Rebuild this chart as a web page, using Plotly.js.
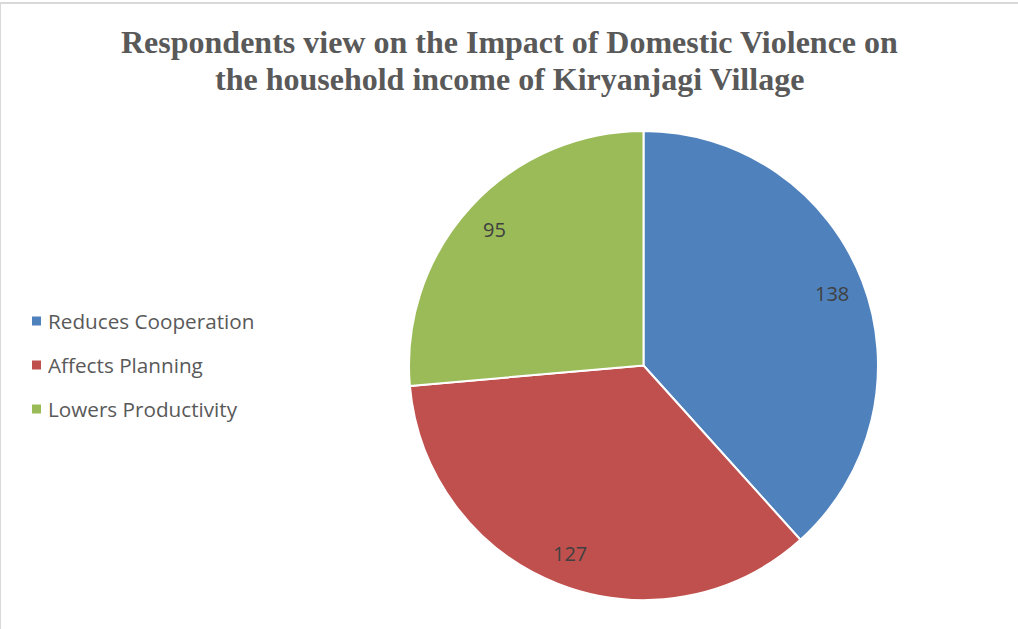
<!DOCTYPE html>
<html>
<head>
<meta charset="utf-8">
<script src="https://cdn.plot.ly/plotly-3.0.1.min.js"></script>
<style>
  html, body { margin: 0; padding: 0; background: #fff; }
  #wrap { position: relative; width: 1018px; height: 629px; }
  #chart { width: 1018px; height: 629px; }
  #frame { position: absolute; left: 0; top: 2px; width: 1018px; height: 627px;
           border-top: 2px solid #d9d9d9; border-left: 1px solid #d9d9d9; box-sizing: border-box; pointer-events: none; }
</style>
</head>
<body>
<div id="wrap">
  <div id="chart"></div>
  <div id="frame"></div>
</div>
<script>
// ---- data ----
const categories = ["Reduces Cooperation", "Affects Planning", "Lowers Productivity"];
const values = [138, 127, 95];
const colors = ["#4F81BD", "#C0504D", "#9BBB59"];
const titleLines = ["Respondents view on the Impact of Domestic Violence on",
                    "the household income of Kiryanjagi Village"];

// ---- geometry (pixels) ----
const W = 1018, H = 629;
const cxPx = 643.5, cyPx = 365.5, Rpx = 234.5;
const domX = [(cxPx - Rpx) / W, (cxPx + Rpx) / W];
const domY = [(H - cyPx - Rpx) / H, (H - cyPx + Rpx) / H];

const trace = {
  type: "pie",
  labels: categories,
  values: values,
  sort: false,
  direction: "clockwise",
  rotation: 0,
  marker: { colors: colors, line: { color: "#ffffff", width: 2 } },
  textinfo: "none",
  hoverinfo: "label+value+percent",
  domain: { x: domX, y: domY },
  showlegend: false,
  automargin: false
};

const labelFont = { family: "Open Sans, Noto Sans, sans-serif", size: 20, color: "#404040" };

// value labels at slice mid-angles
const total = values.reduce((a, b) => a + b, 0);
const annotations = [];
let cum = 0;
const rFrac = 0.86;
values.forEach((v, i) => {
  const mid = (cum + v / 2) / total * 2 * Math.PI;
  cum += v;
  const px = cxPx + Math.sin(mid) * Rpx * rFrac;
  const py = cyPx - Math.cos(mid) * Rpx * rFrac;
  annotations.push({
    xref: "paper", yref: "paper",
    x: px / W, y: (H - py) / H,
    text: String(v), showarrow: false,
    xanchor: "center", yanchor: "middle",
    font: labelFont
  });
});

// title (two lines, tighter line spacing than Plotly's default)
const titleY = [42, 79];
titleLines.forEach((t, i) => {
  annotations.push({
    xref: "paper", yref: "paper",
    x: 0.5, y: (H - titleY[i]) / H,
    text: "<b>" + t + "</b>", showarrow: false,
    xanchor: "center", yanchor: "middle",
    font: { family: "Liberation Serif, Times New Roman, serif", size: 32, color: "#595959" }
  });
});

// legend drawn as annotations
const legX = 32, legY0 = 321, legGap = 44;
categories.forEach((c, i) => {
  const y = legY0 + i * legGap;
  annotations.push({
    xref: "paper", yref: "paper",
    x: (legX + 14) / W, y: (H - y) / H,
    text: c, showarrow: false, xanchor: "left", yanchor: "middle",
    font: { family: "Open Sans, Noto Sans, sans-serif", size: 20.7, color: "#595959" }
  });
});
const shapes = categories.map((c, i) => {
  const y = legY0 + i * legGap;
  return {
    type: "rect", xref: "paper", yref: "paper",
    x0: legX / W, x1: (legX + 9) / W,
    y0: (H - y - 4.5) / H, y1: (H - y + 4.5) / H,
    fillcolor: colors[i], line: { width: 0 }
  };
});

const layout = {
  width: W, height: H,
  margin: { l: 0, r: 0, t: 0, b: 0 },
  paper_bgcolor: "#ffffff",
  annotations: annotations,
  shapes: shapes,
  showlegend: false
};

Plotly.newPlot("chart", [trace], layout, { displayModeBar: false, staticPlot: true });
</script>
</body>
</html>
